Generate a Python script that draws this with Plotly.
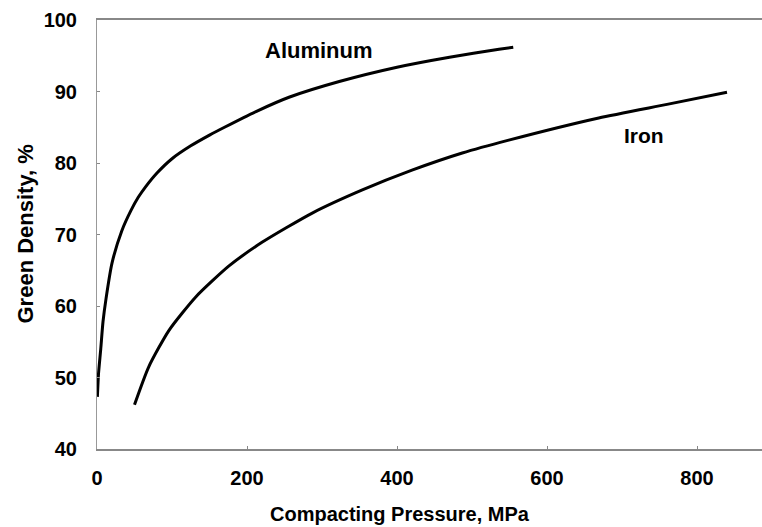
import plotly.graph_objects as go

# Aluminum curve (pressure MPa, green density %)
al_pressure = [0.5, 2, 5, 8, 12, 20, 33, 45, 55, 65, 80, 100, 125, 150, 170, 212, 256, 323, 400, 470, 536, 555]
al_density = [47.3, 50.5, 54.0, 57.8, 61.0, 66.0, 70.5, 73.3, 75.2, 76.7, 78.6, 80.6, 82.4, 83.9, 85.0, 87.2, 89.2, 91.4, 93.4, 94.8, 95.9, 96.2]

# Iron curve
fe_pressure = [50, 69, 96, 132, 176, 220, 287, 353, 420, 487, 549, 669, 760, 840]
fe_density = [46.2, 51.5, 56.6, 61.3, 65.6, 68.9, 73.0, 76.2, 79.0, 81.4, 83.2, 86.3, 88.2, 89.9]

x_ticks = [0, 200, 400, 600, 800]
y_ticks = [40, 50, 60, 70, 80, 90, 100]

FONT = "Liberation Sans, Arial, sans-serif"

fig = go.Figure()
fig.add_trace(go.Scatter(x=al_pressure, y=al_density, mode="lines",
                         line=dict(color="black", width=3, shape="spline", smoothing=0.6),
                         name="Aluminum", showlegend=False))
fig.add_trace(go.Scatter(x=fe_pressure, y=fe_density, mode="lines",
                         line=dict(color="black", width=3, shape="spline", smoothing=0.6),
                         name="Iron", showlegend=False))

fig.add_annotation(x=221, y=95.8, text="<b>Aluminum</b>", showarrow=False,
                   xanchor="left", yanchor="middle",
                   font=dict(family=FONT, size=22, color="black"))
fig.add_annotation(x=700, y=83.9, text="<b>Iron</b>", showarrow=False,
                   xanchor="left", yanchor="middle",
                   font=dict(family=FONT, size=21, color="black"))

fig.add_annotation(xref="paper", yref="paper", x=(400 - 97) / 665, y=-0.1515,
                   text="<b>Compacting Pressure, MPa</b>", showarrow=False,
                   xanchor="center", yanchor="middle",
                   font=dict(family=FONT, size=20, color="black"))
fig.add_annotation(xref="paper", yref="paper", x=(25 - 97) / 665, y=0.5,
                   text="<b>Green Density, %</b>", showarrow=False, textangle=-90,
                   xanchor="center", yanchor="middle",
                   font=dict(family=FONT, size=22, color="black"))

fig.update_layout(
    width=762, height=527,
    margin=dict(l=97, r=0, t=20, b=78, autoexpand=False),
    paper_bgcolor="white", plot_bgcolor="white",
    font=dict(family=FONT, size=20, color="black"),
)
fig.update_xaxes(range=[0, 665 / 0.75], tickvals=x_ticks,
                 ticktext=[f"<b>{v}</b>" for v in x_ticks], automargin=False,
                 showgrid=False, zeroline=False, showline=True, linecolor="#888",
                 linewidth=1.5, mirror=True, ticks="inside", ticklen=3, tickcolor="#888",
                 ticklabelstandoff=10)
fig.update_yaxes(range=[40, 100], tickvals=y_ticks,
                 ticktext=[f"<b>{v}</b>" for v in y_ticks], automargin=False,
                 showgrid=False, zeroline=False, showline=True, linecolor="#999",
                 linewidth=1, ticks="inside", ticklen=3, tickcolor="#888",
                 ticklabelstandoff=15)

fig.write_html(
    "out.html",
    config={"displayModeBar": False},
    post_script="document.body.style.margin='0px';document.body.style.overflow='hidden';",
)
